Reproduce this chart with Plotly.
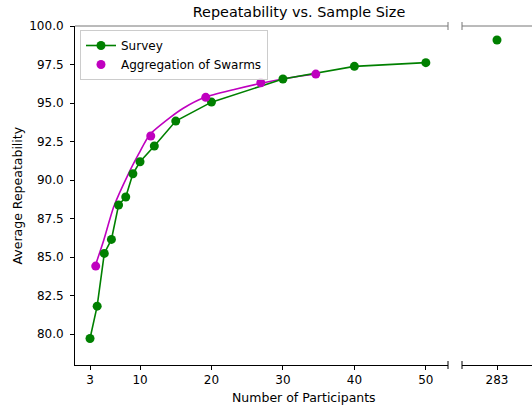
import plotly.graph_objects as go

# Survey series (left panel)
survey_x = [3, 4, 5, 6, 7, 8, 9, 10, 12, 15, 20, 30, 40, 50]
survey_y = [79.72, 81.82, 85.24, 86.15, 88.38, 88.90, 90.41, 91.19, 92.21, 93.83, 95.06, 96.56, 97.38, 97.62]
# Survey point in the broken-off right panel
survey_far_x = [283]
survey_far_y = [99.09]

# Aggregation of Swarms points
swarm_x = [3.8, 11.5, 19.2, 26.9, 34.6]
swarm_y = [84.42, 92.86, 95.37, 96.32, 96.88]

# Smooth fitted curve through swarm results
curve_x = [3.74, 4.92, 6.32, 8.41, 9.85, 11.35, 14.19, 16.05, 19.09, 23.04, 26.92, 30.98, 34.57]
curve_y = [84.44, 86.10, 88.27, 90.44, 91.73, 92.94, 94.05, 94.66, 95.37, 95.86, 96.28, 96.64, 96.88]

x_ticks = [3, 10, 20, 30, 40, 50]
x2_ticks = [283]
y_ticks = [80.0, 82.5, 85.0, 87.5, 90.0, 92.5, 95.0, 97.5, 100.0]

GREEN = "#008000"
MAGENTA = "#bf00bf"
FONT = "DejaVu Sans"

W, H = 532, 408
ML, MR, MT, MB = 75, 0, 26, 43
PW = W - ML - MR
PH = H - MT - MB

def px2x(px):
    return (px - ML) / PW

d1 = [0, px2x(448)]
d2 = [px2x(462), 1]

fig = go.Figure()

fig.add_trace(go.Scatter(x=curve_x, y=curve_y, mode="lines", line=dict(color=MAGENTA, width=1.6, shape="spline", smoothing=0.6),
                         showlegend=False, hoverinfo="skip", xaxis="x", yaxis="y"))
fig.add_trace(go.Scatter(x=survey_x, y=survey_y, mode="lines+markers", name="Survey",
                         line=dict(color=GREEN, width=1.6), marker=dict(color=GREEN, size=9),
                         legendrank=1, xaxis="x", yaxis="y"))
fig.add_trace(go.Scatter(x=swarm_x, y=swarm_y, mode="markers", name="Aggregation of Swarms",
                         marker=dict(color=MAGENTA, size=9), legendrank=2, xaxis="x", yaxis="y"))
fig.add_trace(go.Scatter(x=survey_far_x, y=survey_far_y, mode="markers", showlegend=False,
                         marker=dict(color=GREEN, size=9), xaxis="x2", yaxis="y2"))

axis_font = dict(family=FONT, size=12, color="black")

fig.update_layout(
    width=W, height=H,
    margin=dict(l=ML, r=MR, t=MT, b=MB, pad=0),
    paper_bgcolor="white", plot_bgcolor="white",
    font=dict(family=FONT, size=12, color="black"),
    title=dict(text="Repeatability vs. Sample Size", x=299 / W, xref="container", xanchor="center",
               y=1 - 12 / H, yref="container", yanchor="middle", font=dict(family=FONT, size=14.4, color="black")),
    xaxis=dict(domain=d1, range=[0.9, 53.1], tickvals=x_ticks, ticktext=[str(v) for v in x_ticks],
               showgrid=False, zeroline=False, showline=True, linecolor="black", linewidth=1,
               ticks="outside", ticklen=4, tickcolor="black", tickfont=axis_font, anchor="y", automargin=False),
    xaxis2=dict(domain=d2, range=[278, 288], tickvals=x2_ticks, ticktext=[str(v) for v in x2_ticks],
                showgrid=False, zeroline=False, showline=True, linecolor="black", linewidth=1,
                ticks="outside", ticklen=4, tickcolor="black", tickfont=axis_font, anchor="y2", automargin=False),
    yaxis=dict(domain=[0, 1], range=[78, 100], tickvals=y_ticks, ticktext=[f"{v:.1f}" for v in y_ticks],
               showgrid=False, zeroline=False, showline=True, linecolor="black", linewidth=1,
               ticks="outside", ticklen=4, tickcolor="black", tickfont=axis_font, anchor="x",
               ticklabelstandoff=4, automargin=False),
    yaxis2=dict(domain=[0, 1], range=[78, 100], matches="y", showticklabels=False, showgrid=False,
                zeroline=False, showline=False, ticks="", anchor="x2", automargin=False),
    legend=dict(x=px2x(80), y=1 - (30 - MT) / PH, xanchor="left", yanchor="top",
                bgcolor="rgba(255,255,255,0.8)", bordercolor="#cccccc", borderwidth=1,
                font=dict(family=FONT, size=12, color="black"), tracegroupgap=0, itemwidth=30),
    showlegend=True,
)

shapes = []
GRAYTOP = "#777777"
# top spines (gray)
shapes.append(dict(type="line", xref="paper", yref="paper", x0=d1[0], x1=d1[1], y0=1, y1=1, line=dict(color=GRAYTOP, width=1)))
shapes.append(dict(type="line", xref="paper", yref="paper", x0=d2[0], x1=1, y0=1, y1=1, line=dict(color=GRAYTOP, width=1)))
# break marks
mh = 4 / PH
for xx in (d1[1], d2[0]):
    shapes.append(dict(type="line", xref="paper", yref="paper", x0=xx, x1=xx, y0=1 - mh, y1=1 + mh, line=dict(color=GRAYTOP, width=1)))
    shapes.append(dict(type="line", xref="paper", yref="paper", x0=xx, x1=xx, y0=-mh, y1=mh, line=dict(color="black", width=1)))
fig.update_layout(shapes=shapes)

fig.add_annotation(text="Number of Participants", xref="paper", yref="paper", x=px2x(304), y=-(397 - 365) / PH,
                   xanchor="center", yanchor="middle", showarrow=False, font=dict(family=FONT, size=12.5, color="black"))
fig.add_annotation(text="Average Repeatability", xref="paper", yref="paper", x=px2x(17), y=0.5,
                   xanchor="center", yanchor="middle", textangle=-90, showarrow=False,
                   font=dict(family=FONT, size=12.5, color="black"))

fig.write_html("out.html", config={"displayModeBar": False},
               post_script="document.body.style.margin='0';document.body.style.overflow='hidden';")
